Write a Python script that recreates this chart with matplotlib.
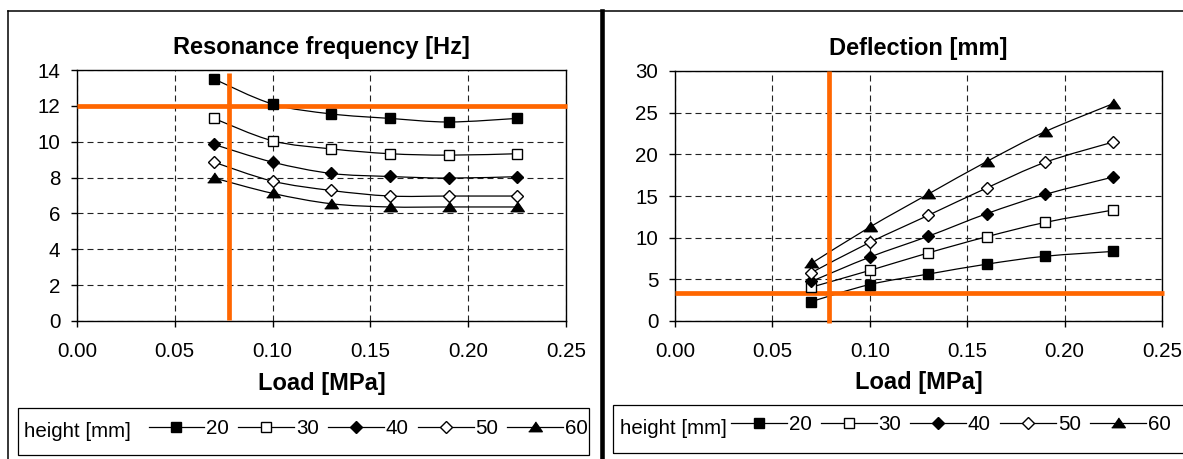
import matplotlib
matplotlib.use("Agg")
import matplotlib.pyplot as plt
from matplotlib.path import Path
from matplotlib.patches import PathPatch, Rectangle
from matplotlib.lines import Line2D
import numpy as np

plt.rcParams['font.family'] = ['Liberation Sans', 'DejaVu Sans']

# ---------------- data ----------------
load = [0.07, 0.10, 0.13, 0.16, 0.19, 0.225]
heights = ['20', '30', '40', '50', '60']

freq_20 = [13.5, 12.1, 11.55, 11.3, 11.1, 11.3]
freq_30 = [11.3, 10.05, 9.6, 9.33, 9.25, 9.33]
freq_40 = [9.85, 8.86, 8.23, 8.06, 7.97, 8.05]
freq_50 = [8.86, 7.8, 7.28, 6.97, 6.97, 6.97]
freq_60 = [7.98, 7.12, 6.54, 6.36, 6.36, 6.36]

defl_20 = [2.33, 4.38, 5.63, 6.82, 7.77, 8.35]
defl_30 = [4.06, 6.07, 8.17, 10.11, 11.83, 13.32]
defl_40 = [4.75, 7.67, 10.17, 12.88, 15.19, 17.28]
defl_50 = [5.8, 9.43, 12.68, 15.96, 19.04, 21.48]
defl_60 = [6.91, 11.27, 15.23, 19.13, 22.72, 26.09]

freq_limit = 12.0
defl_limit = 3.4
load_limit_freq = 0.0775
load_limit_defl = 0.079

x_ticks = [0.00, 0.05, 0.10, 0.15, 0.20, 0.25]
x_ticklabels = ['0.00', '0.05', '0.10', '0.15', '0.20', '0.25']
freq_ticks = [0, 2, 4, 6, 8, 10, 12, 14]
defl_ticks = [0, 5, 10, 15, 20, 25, 30]

# ---------------- styles ----------------
W, H = 1183, 459
ORANGE = '#FF6600'
TICK_FS = 14.8
BOLD_FS = 17
tri = [(-1, -0.62), (1, -0.62), (0, 0.82)]
styles = [
    dict(marker='s', ms=7.6, mfc='black', mec='black'),
    dict(marker='s', ms=7.6, mfc='white', mec='black'),
    dict(marker='D', ms=6.2, mfc='black', mec='black'),
    dict(marker='D', ms=6.2, mfc='white', mec='black'),
    dict(marker=tri, ms=9.8, mfc='black', mec='black'),
]

fig = plt.figure(figsize=(W / 100, H / 100), dpi=100)
fig.patch.set_facecolor('white')


def box(l, t, r, b):
    return [l / W, 1 - b / H, (r - l) / W, (b - t) / H]


def smooth_path(xs, ys):
    pts = np.column_stack([xs, ys]).astype(float)
    n = len(pts)
    verts = [pts[0]]
    codes = [Path.MOVETO]
    for i in range(n - 1):
        p0 = pts[i - 1] if i > 0 else pts[i]
        p1 = pts[i]
        p2 = pts[i + 1]
        p3 = pts[i + 2] if i + 2 < n else pts[i + 1]
        c1 = p1 + (p2 - p0) / 6.0
        c2 = p2 - (p3 - p1) / 6.0
        verts += [c1, c2, p2]
        codes += [Path.CURVE4] * 3
    return Path(verts, codes)


def setup(ax, yticks, ymax, title, title_y, xlabel_y):
    ax.set_xlim(0, 0.25)
    ax.set_ylim(0, ymax)
    ax.set_xticks(x_ticks)
    ax.set_xticklabels(x_ticklabels)
    ax.set_yticks(yticks)
    ax.tick_params(axis='both', direction='out', length=4, width=1,
                   labelsize=TICK_FS, colors='black')
    ax.tick_params(axis='y', pad=8)
    ax.tick_params(axis='x', pad=11)
    for s in ax.spines.values():
        s.set_linewidth(1.0)
        s.set_color('black')
    ax.grid(True, color='#222222', linewidth=0.8,
            linestyle=(0, (5.4, 3.6)))
    ax.set_axisbelow(True)
    ax.text(0.5, title_y, title, transform=ax.transAxes, ha='center',
            va='baseline', fontsize=BOLD_FS, fontweight='bold')
    ax.text(0.5, xlabel_y, 'Load [MPa]', transform=ax.transAxes,
            ha='center', va='baseline', fontsize=BOLD_FS, fontweight='bold')


def draw_series(ax, series):
    handles = []
    for ys, st in zip(series, styles):
        ax.add_patch(PathPatch(smooth_path(load, ys), facecolor='none',
                               edgecolor='black', linewidth=0.9, zorder=3))
        ax.plot(load, ys, linestyle='none', markeredgewidth=1.0,
                zorder=6, clip_on=False, **st)
        handles.append(Line2D([], [], color='black', linewidth=0.9,
                              markeredgewidth=1.0, **st))
    return handles


# ---------------- left chart ----------------
ax1 = fig.add_axes(box(77, 70, 566, 321))
setup(ax1, freq_ticks, 14, 'Resonance frequency [Hz]', 1.064, -0.275)
h1 = draw_series(ax1, [freq_20, freq_30, freq_40, freq_50, freq_60])
ax1.plot([0, 0.2505], [freq_limit, freq_limit], color=ORANGE, lw=3.4,
         solid_capstyle='butt', zorder=5, clip_on=False)
ax1.plot([load_limit_freq, load_limit_freq], [0.08, 13.85], color=ORANGE,
         lw=3.4, solid_capstyle='butt', zorder=5, clip_on=False)

# ---------------- right chart ----------------
ax2 = fig.add_axes(box(675, 71, 1162, 321))
setup(ax2, defl_ticks, 30, 'Deflection [mm]', 1.064, -0.272)
h2 = draw_series(ax2, [defl_20, defl_30, defl_40, defl_50, defl_60])
ax2.plot([0, 0.251], [defl_limit, defl_limit], color=ORANGE, lw=3.4,
         solid_capstyle='butt', zorder=5, clip_on=False)
ax2.plot([load_limit_defl, load_limit_defl], [-0.25, 30], color=ORANGE,
         lw=3.4, solid_capstyle='butt', zorder=5, clip_on=False)

# ---------------- legends ----------------
for (l, t, r, b, tx, base, hx, hy, handles, ax) in [
        (18, 408, 589, 455, 24, 437, 148.5, 429, h1, ax1),
        (613, 405, 1200, 453, 620, 434, 731, 425, h2, ax2)]:
    fig.add_artist(Rectangle((l / W, 1 - b / H), (r - l) / W, (b - t) / H,
                             transform=fig.transFigure, facecolor='none',
                             edgecolor='black', linewidth=0.9, clip_on=False))
    fig.text(tx / W, 1 - base / H, 'height [mm]', fontsize=TICK_FS,
             ha='left', va='baseline')
    leg = ax.legend(handles, heights, ncol=5, frameon=False,
                    loc='center left',
                    bbox_to_anchor=(hx / W, 1 - hy / H),
                    bbox_transform=fig.transFigure, borderpad=0,
                    borderaxespad=0, handlelength=2.72, handletextpad=0.08,
                    columnspacing=0.45, fontsize=TICK_FS, numpoints=1)

# ---------------- outer frame ----------------
fig.add_artist(Line2D([8 / W, 1], [1 - 11 / H, 1 - 11 / H],
                      transform=fig.transFigure, color='black', lw=1.1))
fig.add_artist(Line2D([8 / W, 8 / W], [0, 1 - 11 / H],
                      transform=fig.transFigure, color='black', lw=1.1))
fig.add_artist(Line2D([602 / W, 602 / W], [0, 1 - 11 / H],
                      transform=fig.transFigure, color='black', lw=3.3))

fig.savefig('out.png', dpi=100, facecolor='white')
